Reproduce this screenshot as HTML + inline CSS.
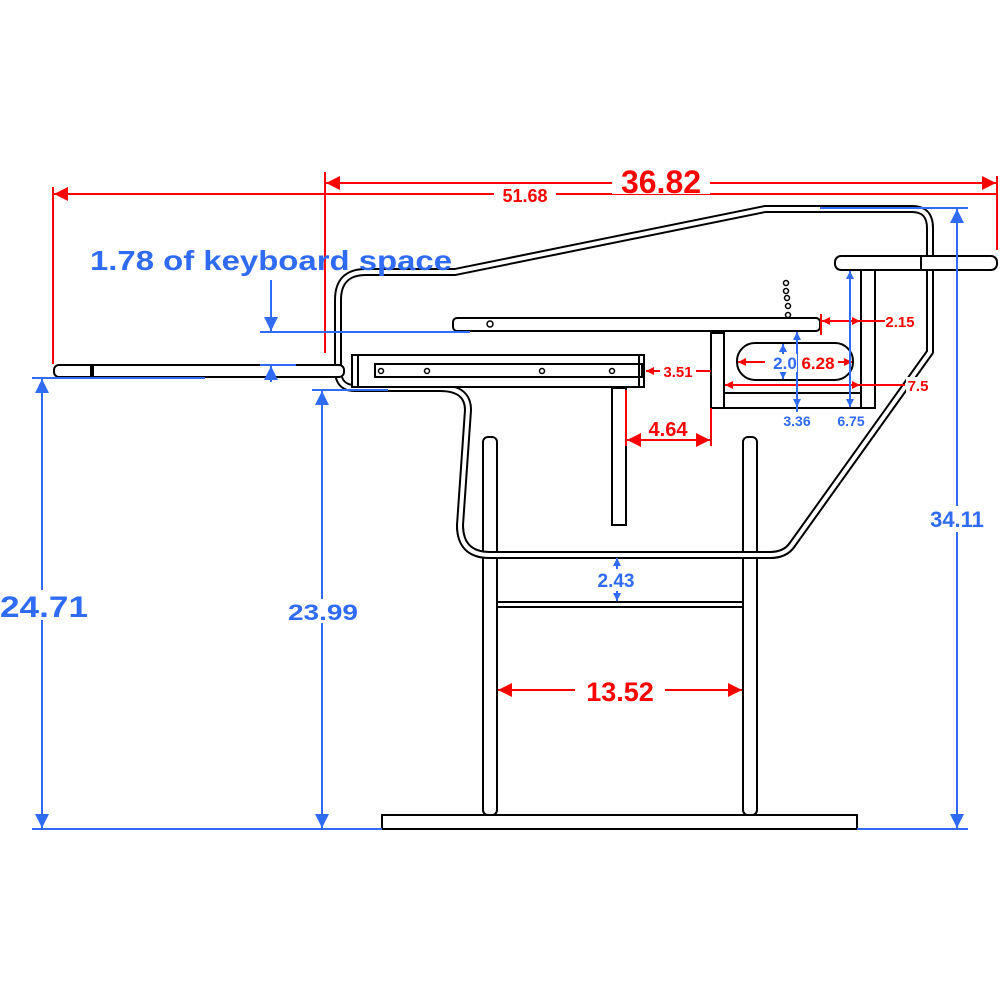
<!DOCTYPE html>
<html><head><meta charset="utf-8"><style>
html,body{margin:0;padding:0;background:#fff;}
svg{display:block;}
text{font-family:"Liberation Sans",sans-serif;font-weight:bold;}
</style></head><body>
<svg width="1000" height="1000" viewBox="0 0 1000 1000" xmlns="http://www.w3.org/2000/svg">
<defs>
<marker id="ar" viewBox="0 0 10 10" refX="10" refY="5" markerWidth="9" markerHeight="8" orient="auto-start-reverse" markerUnits="userSpaceOnUse"><path d="M0,0 L10,5 L0,10z" fill="#f00"/></marker>
<marker id="ab" viewBox="0 0 10 10" refX="10" refY="5" markerWidth="9" markerHeight="8" orient="auto-start-reverse" markerUnits="userSpaceOnUse"><path d="M0,0 L10,5 L0,10z" fill="#2f6bf5"/></marker>
<marker id="arL" viewBox="0 0 10 10" refX="10" refY="5" markerWidth="18" markerHeight="14" orient="auto-start-reverse" markerUnits="userSpaceOnUse"><path d="M0,0 L10,5 L0,10z" fill="#f00"/></marker>
<marker id="abL" viewBox="0 0 10 10" refX="10" refY="5" markerWidth="18" markerHeight="14" orient="auto-start-reverse" markerUnits="userSpaceOnUse"><path d="M0,0 L10,5 L0,10z" fill="#2f6bf5"/></marker>
</defs>

<path d="M455,272 L765,209 L912,209 Q930,209 930,228 L930,352 L792,545 Q785,555 770,555 L490,555 Q460,555 460,525 L468,410 Q468,388 440,388 L355,388 Q338,388 338,370 L338,300 Q338,272 366,272 Z" fill="none" stroke="#000" stroke-width="8" stroke-linejoin="round"/>
<path d="M455,272 L765,209 L912,209 Q930,209 930,228 L930,352 L792,545 Q785,555 770,555 L490,555 Q460,555 460,525 L468,410 Q468,388 440,388 L355,388 Q338,388 338,370 L338,300 Q338,272 366,272 Z" fill="none" stroke="#fff" stroke-width="4" stroke-linejoin="round"/>

<g fill="#fff" stroke="#000" stroke-width="2">
<rect x="54" y="365" width="290" height="12" rx="5"/>
<line x1="91" y1="365" x2="91" y2="377"/><line x1="93" y1="365" x2="93" y2="377"/>
<rect x="352" y="355" width="292" height="32"/>
<line x1="358" y1="355" x2="358" y2="387"/>
<rect x="375" y="364" width="267" height="13"/>
<line x1="639" y1="355" x2="639" y2="387"/>
<rect x="453" y="318" width="367" height="13" rx="4"/>
<rect x="612" y="388" width="14" height="137"/>
<rect x="711" y="333" width="13" height="75"/>
<rect x="724" y="393" width="151" height="15"/>
<rect x="861" y="269" width="14" height="139"/>
<rect x="835" y="256" width="162" height="14" rx="6"/>
<line x1="921" y1="256" x2="921" y2="270"/>
<rect x="737" y="343" width="116" height="37" rx="18"/>
<rect x="483" y="437" width="14" height="378" rx="5"/>
<rect x="743" y="437" width="14" height="378" rx="5"/>
<rect x="497" y="602" width="246" height="5"/>
<rect x="382" y="815" width="475" height="14"/>
</g>
<path d="M792,545 Q785,555 770,555 L490,555 Q460,555 460,525" fill="none" stroke="#000" stroke-width="8"/>
<path d="M792,545 Q785,555 770,555 L490,555 Q460,555 460,525" fill="none" stroke="#fff" stroke-width="4"/>
<g fill="none" stroke="#000" stroke-width="1.5">
<circle cx="381" cy="371" r="2.5"/><circle cx="427" cy="371" r="2.5"/><circle cx="542" cy="371" r="2.5"/><circle cx="612" cy="371" r="2.5"/>
<circle cx="490" cy="324" r="3"/>
<circle cx="786" cy="283" r="2.5"/><circle cx="786" cy="291" r="2.5"/><circle cx="787" cy="298" r="2.5"/><circle cx="788" cy="306" r="2.5"/><circle cx="788" cy="315" r="2.5"/>
</g>

<g stroke="#f00" stroke-width="2" fill="none">
<line x1="325" y1="172" x2="325" y2="353"/>
<line x1="997" y1="176" x2="997" y2="250"/>
<line x1="53" y1="187" x2="53" y2="364"/>
<line x1="326" y1="183" x2="996" y2="183" marker-start="url(#arL)" marker-end="url(#arL)"/>
<line x1="54" y1="194" x2="996" y2="194" marker-start="url(#arL)"/>
<line x1="711" y1="371" x2="646" y2="371" marker-end="url(#ar)"/>
<line x1="626" y1="390" x2="626" y2="446"/>
<line x1="711" y1="408" x2="711" y2="446"/>
<line x1="627" y1="440" x2="710" y2="440" marker-start="url(#arL)" marker-end="url(#arL)"/>
<line x1="821" y1="314" x2="821" y2="335"/>
<line x1="822" y1="321" x2="860" y2="321" marker-start="url(#ar)" marker-end="url(#ar)"/>
<line x1="860" y1="321" x2="885" y2="321"/>
<line x1="725" y1="385" x2="860" y2="385" marker-start="url(#ar)" marker-end="url(#ar)"/>
<line x1="860" y1="385" x2="905" y2="385"/>
<line x1="738" y1="362" x2="765" y2="362" marker-start="url(#ar)"/>
<line x1="838" y1="362" x2="852" y2="362" marker-end="url(#ar)"/>
<line x1="498" y1="690" x2="742" y2="690" marker-start="url(#arL)" marker-end="url(#arL)"/>
</g>
<g fill="#f00">
<rect x="612" y="168" width="98" height="26" fill="#fff"/>
<text x="661" y="193" font-size="32" text-anchor="middle">36.82</text>
<rect x="494" y="186" width="62" height="17" fill="#fff"/>
<text x="525" y="202" font-size="18" text-anchor="middle">51.68</text>
<rect x="660" y="363" width="36" height="16" fill="#fff"/>
<text x="678" y="377" font-size="15" text-anchor="middle">3.51</text>
<text x="668" y="436" font-size="20" text-anchor="middle">4.64</text>
<text x="900" y="327" font-size="15" text-anchor="middle">2.15</text>
<rect x="906" y="377" width="26" height="16" fill="#fff"/>
<text x="918" y="391" font-size="15" text-anchor="middle">7.5</text>
<text x="818" y="369" font-size="17" text-anchor="middle">6.28</text>
<rect x="575" y="677" width="90" height="28" fill="#fff"/>
<text x="620" y="701" font-size="27" text-anchor="middle">13.52</text>
</g>

<g stroke="#2f6bf5" stroke-width="2" fill="none">
<line x1="32" y1="378" x2="205" y2="378"/>
<line x1="32" y1="829" x2="382" y2="829"/>
<line x1="42" y1="379" x2="42" y2="828" marker-start="url(#abL)" marker-end="url(#abL)"/>
<line x1="312" y1="390" x2="388" y2="390"/>
<line x1="322" y1="391" x2="322" y2="828" marker-start="url(#abL)" marker-end="url(#abL)"/>
<line x1="820" y1="208" x2="968" y2="208"/>
<line x1="857" y1="829" x2="968" y2="829"/>
<line x1="957" y1="209" x2="957" y2="828" marker-start="url(#abL)" marker-end="url(#abL)"/>
<line x1="260" y1="332" x2="470" y2="332"/>
<line x1="271" y1="280" x2="271" y2="331" marker-end="url(#abL)"/>
<line x1="260" y1="365" x2="296" y2="365"/>
<line x1="271" y1="382" x2="271" y2="366" marker-end="url(#abL)"/>
<line x1="617" y1="558" x2="617" y2="601" marker-start="url(#ab)" marker-end="url(#ab)"/>
<line x1="783" y1="344" x2="783" y2="379" marker-start="url(#ab)" marker-end="url(#ab)"/>
<line x1="797" y1="332" x2="797" y2="407" marker-start="url(#ab)" marker-end="url(#ab)"/>
<line x1="797" y1="407" x2="797" y2="412"/>
<line x1="850" y1="271" x2="850" y2="407" marker-start="url(#ab)" marker-end="url(#ab)"/>
</g>
<g fill="#2f6bf5">
<text x="90" y="270" font-size="28" textLength="362" lengthAdjust="spacingAndGlyphs">1.78 of keyboard space</text>
<rect x="0" y="590" width="90" height="30" fill="#fff"/>
<text x="0" y="617" font-size="30" textLength="88" lengthAdjust="spacingAndGlyphs">24.71</text>
<rect x="287" y="599" width="72" height="24" fill="#fff"/>
<text x="288" y="620" font-size="22" textLength="70" lengthAdjust="spacingAndGlyphs">23.99</text>
<rect x="918" y="506" width="78" height="26" fill="#fff"/>
<text x="957" y="527" font-size="22" text-anchor="middle">34.11</text>
<rect x="592" y="569" width="48" height="22" fill="#fff"/>
<text x="616" y="587" font-size="19" text-anchor="middle">2.43</text>
<rect x="771" y="354" width="26" height="18" fill="#fff"/>
<text x="785" y="369" font-size="17" text-anchor="middle">2.0</text>
<text x="797" y="426" font-size="14" text-anchor="middle">3.36</text>
<text x="851" y="426" font-size="14" text-anchor="middle">6.75</text>
</g>
</svg>
</body></html>
